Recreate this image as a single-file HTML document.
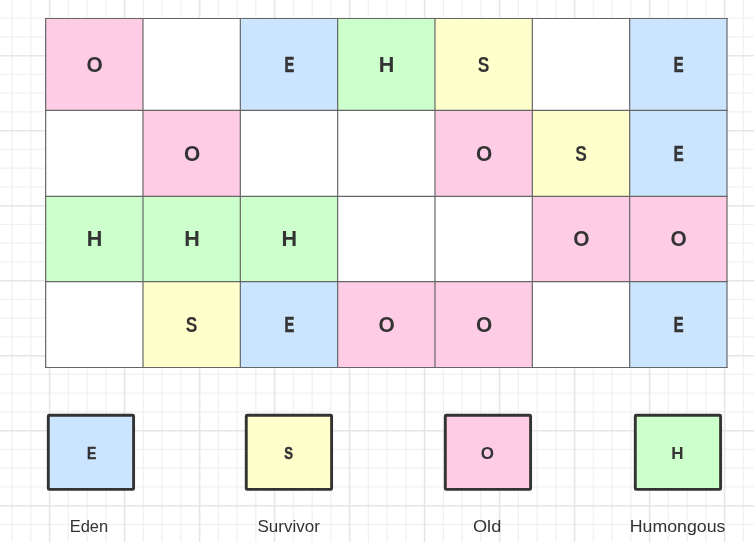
<!DOCTYPE html>
<html><head><meta charset="utf-8"><style>
html,body{margin:0;padding:0;background:#fff;width:754px;height:542px;overflow:hidden}
svg{display:block;will-change:transform}
text{font-family:"Liberation Sans",sans-serif;text-anchor:middle}
.c{font-size:22px;font-weight:bold;fill:#333}
.l{font-size:17px;font-weight:bold;fill:#333}
.n{font-size:17px;fill:#333}
</style></head><body>
<svg width="754" height="542" viewBox="0 0 754 542">
<g stroke="#f1f1f1" stroke-width="1.3">
<line x1="12.10" y1="0" x2="12.10" y2="542"/>
<line x1="30.85" y1="0" x2="30.85" y2="542"/>
<line x1="68.35" y1="0" x2="68.35" y2="542"/>
<line x1="87.10" y1="0" x2="87.10" y2="542"/>
<line x1="105.85" y1="0" x2="105.85" y2="542"/>
<line x1="143.35" y1="0" x2="143.35" y2="542"/>
<line x1="162.10" y1="0" x2="162.10" y2="542"/>
<line x1="180.85" y1="0" x2="180.85" y2="542"/>
<line x1="218.35" y1="0" x2="218.35" y2="542"/>
<line x1="237.10" y1="0" x2="237.10" y2="542"/>
<line x1="255.85" y1="0" x2="255.85" y2="542"/>
<line x1="293.35" y1="0" x2="293.35" y2="542"/>
<line x1="312.10" y1="0" x2="312.10" y2="542"/>
<line x1="330.85" y1="0" x2="330.85" y2="542"/>
<line x1="368.35" y1="0" x2="368.35" y2="542"/>
<line x1="387.10" y1="0" x2="387.10" y2="542"/>
<line x1="405.85" y1="0" x2="405.85" y2="542"/>
<line x1="443.35" y1="0" x2="443.35" y2="542"/>
<line x1="462.10" y1="0" x2="462.10" y2="542"/>
<line x1="480.85" y1="0" x2="480.85" y2="542"/>
<line x1="518.35" y1="0" x2="518.35" y2="542"/>
<line x1="537.10" y1="0" x2="537.10" y2="542"/>
<line x1="555.85" y1="0" x2="555.85" y2="542"/>
<line x1="593.35" y1="0" x2="593.35" y2="542"/>
<line x1="612.10" y1="0" x2="612.10" y2="542"/>
<line x1="630.85" y1="0" x2="630.85" y2="542"/>
<line x1="668.35" y1="0" x2="668.35" y2="542"/>
<line x1="687.10" y1="0" x2="687.10" y2="542"/>
<line x1="705.85" y1="0" x2="705.85" y2="542"/>
<line x1="743.35" y1="0" x2="743.35" y2="542"/>
<line x1="0" y1="-0.55" x2="754" y2="-0.55"/>
<line x1="0" y1="18.20" x2="754" y2="18.20"/>
<line x1="0" y1="36.95" x2="754" y2="36.95"/>
<line x1="0" y1="74.45" x2="754" y2="74.45"/>
<line x1="0" y1="93.20" x2="754" y2="93.20"/>
<line x1="0" y1="111.95" x2="754" y2="111.95"/>
<line x1="0" y1="149.45" x2="754" y2="149.45"/>
<line x1="0" y1="168.20" x2="754" y2="168.20"/>
<line x1="0" y1="186.95" x2="754" y2="186.95"/>
<line x1="0" y1="224.45" x2="754" y2="224.45"/>
<line x1="0" y1="243.20" x2="754" y2="243.20"/>
<line x1="0" y1="261.95" x2="754" y2="261.95"/>
<line x1="0" y1="299.45" x2="754" y2="299.45"/>
<line x1="0" y1="318.20" x2="754" y2="318.20"/>
<line x1="0" y1="336.95" x2="754" y2="336.95"/>
<line x1="0" y1="374.45" x2="754" y2="374.45"/>
<line x1="0" y1="393.20" x2="754" y2="393.20"/>
<line x1="0" y1="411.95" x2="754" y2="411.95"/>
<line x1="0" y1="449.45" x2="754" y2="449.45"/>
<line x1="0" y1="468.20" x2="754" y2="468.20"/>
<line x1="0" y1="486.95" x2="754" y2="486.95"/>
<line x1="0" y1="524.45" x2="754" y2="524.45"/>
<line x1="0" y1="543.20" x2="754" y2="543.20"/>
</g>
<g stroke="#e6e6e6" stroke-width="1.6">
<line x1="49.60" y1="0" x2="49.60" y2="542"/>
<line x1="124.60" y1="0" x2="124.60" y2="542"/>
<line x1="199.60" y1="0" x2="199.60" y2="542"/>
<line x1="274.60" y1="0" x2="274.60" y2="542"/>
<line x1="349.60" y1="0" x2="349.60" y2="542"/>
<line x1="424.60" y1="0" x2="424.60" y2="542"/>
<line x1="499.60" y1="0" x2="499.60" y2="542"/>
<line x1="574.60" y1="0" x2="574.60" y2="542"/>
<line x1="649.60" y1="0" x2="649.60" y2="542"/>
<line x1="724.60" y1="0" x2="724.60" y2="542"/>
<line x1="0" y1="55.70" x2="754" y2="55.70"/>
<line x1="0" y1="130.70" x2="754" y2="130.70"/>
<line x1="0" y1="205.70" x2="754" y2="205.70"/>
<line x1="0" y1="280.70" x2="754" y2="280.70"/>
<line x1="0" y1="355.70" x2="754" y2="355.70"/>
<line x1="0" y1="430.70" x2="754" y2="430.70"/>
<line x1="0" y1="505.70" x2="754" y2="505.70"/>
</g>
<rect x="45.65" y="18.50" width="97.34" height="91.90" fill="#ffcce6"/>
<rect x="142.99" y="18.50" width="97.34" height="91.90" fill="#ffffff"/>
<rect x="240.32" y="18.50" width="97.34" height="91.90" fill="#cce5ff"/>
<rect x="337.66" y="18.50" width="97.34" height="91.90" fill="#ccffcc"/>
<rect x="434.99" y="18.50" width="97.34" height="91.90" fill="#ffffcc"/>
<rect x="532.33" y="18.50" width="97.34" height="91.90" fill="#ffffff"/>
<rect x="629.66" y="18.50" width="97.34" height="91.90" fill="#cce5ff"/>
<rect x="45.65" y="110.40" width="97.34" height="85.90" fill="#ffffff"/>
<rect x="142.99" y="110.40" width="97.34" height="85.90" fill="#ffcce6"/>
<rect x="240.32" y="110.40" width="97.34" height="85.90" fill="#ffffff"/>
<rect x="337.66" y="110.40" width="97.34" height="85.90" fill="#ffffff"/>
<rect x="434.99" y="110.40" width="97.34" height="85.90" fill="#ffcce6"/>
<rect x="532.33" y="110.40" width="97.34" height="85.90" fill="#ffffcc"/>
<rect x="629.66" y="110.40" width="97.34" height="85.90" fill="#cce5ff"/>
<rect x="45.65" y="196.30" width="97.34" height="85.30" fill="#ccffcc"/>
<rect x="142.99" y="196.30" width="97.34" height="85.30" fill="#ccffcc"/>
<rect x="240.32" y="196.30" width="97.34" height="85.30" fill="#ccffcc"/>
<rect x="337.66" y="196.30" width="97.34" height="85.30" fill="#ffffff"/>
<rect x="434.99" y="196.30" width="97.34" height="85.30" fill="#ffffff"/>
<rect x="532.33" y="196.30" width="97.34" height="85.30" fill="#ffcce6"/>
<rect x="629.66" y="196.30" width="97.34" height="85.30" fill="#ffcce6"/>
<rect x="45.65" y="281.60" width="97.34" height="85.90" fill="#ffffff"/>
<rect x="142.99" y="281.60" width="97.34" height="85.90" fill="#ffffcc"/>
<rect x="240.32" y="281.60" width="97.34" height="85.90" fill="#cce5ff"/>
<rect x="337.66" y="281.60" width="97.34" height="85.90" fill="#ffcce6"/>
<rect x="434.99" y="281.60" width="97.34" height="85.90" fill="#ffcce6"/>
<rect x="532.33" y="281.60" width="97.34" height="85.90" fill="#ffffff"/>
<rect x="629.66" y="281.60" width="97.34" height="85.90" fill="#cce5ff"/>
<g stroke="#666666" stroke-width="1.2" stroke-linecap="square">
<line x1="45.65" y1="18.50" x2="45.65" y2="367.50"/>
<line x1="142.99" y1="18.50" x2="142.99" y2="367.50"/>
<line x1="240.32" y1="18.50" x2="240.32" y2="367.50"/>
<line x1="337.66" y1="18.50" x2="337.66" y2="367.50"/>
<line x1="434.99" y1="18.50" x2="434.99" y2="367.50"/>
<line x1="532.33" y1="18.50" x2="532.33" y2="367.50"/>
<line x1="629.66" y1="18.50" x2="629.66" y2="367.50"/>
<line x1="727.00" y1="18.50" x2="727.00" y2="367.50"/>
<line x1="45.65" y1="18.50" x2="727.00" y2="18.50"/>
<line x1="45.65" y1="110.40" x2="727.00" y2="110.40"/>
<line x1="45.65" y1="196.30" x2="727.00" y2="196.30"/>
<line x1="45.65" y1="281.60" x2="727.00" y2="281.60"/>
<line x1="45.65" y1="367.50" x2="727.00" y2="367.50"/>
</g>
<text transform="translate(94.72,71.95) scale(0.95,1.03)" class="c" stroke="#333" stroke-width="0">O</text>
<text transform="translate(289.39,71.65) scale(0.67,0.97)" class="c" stroke="#333" stroke-width="0.7">E</text>
<text transform="translate(386.62,71.95) scale(0.98,1.0)" class="c" stroke="#333" stroke-width="0">H</text>
<text transform="translate(483.66,71.95) scale(0.79,1.02)" class="c" stroke="#333" stroke-width="0">S</text>
<text transform="translate(678.73,71.65) scale(0.67,0.97)" class="c" stroke="#333" stroke-width="0.7">E</text>
<text transform="translate(192.05,160.85) scale(0.95,1.03)" class="c" stroke="#333" stroke-width="0">O</text>
<text transform="translate(484.06,160.85) scale(0.95,1.03)" class="c" stroke="#333" stroke-width="0">O</text>
<text transform="translate(581.00,160.85) scale(0.79,1.02)" class="c" stroke="#333" stroke-width="0">S</text>
<text transform="translate(678.73,160.55) scale(0.67,0.97)" class="c" stroke="#333" stroke-width="0.7">E</text>
<text transform="translate(94.62,246.45) scale(0.98,1.0)" class="c" stroke="#333" stroke-width="0">H</text>
<text transform="translate(191.95,246.45) scale(0.98,1.0)" class="c" stroke="#333" stroke-width="0">H</text>
<text transform="translate(289.29,246.45) scale(0.98,1.0)" class="c" stroke="#333" stroke-width="0">H</text>
<text transform="translate(581.40,246.45) scale(0.95,1.03)" class="c" stroke="#333" stroke-width="0">O</text>
<text transform="translate(678.73,246.45) scale(0.95,1.03)" class="c" stroke="#333" stroke-width="0">O</text>
<text transform="translate(191.65,332.05) scale(0.79,1.02)" class="c" stroke="#333" stroke-width="0">S</text>
<text transform="translate(289.39,331.75) scale(0.67,0.97)" class="c" stroke="#333" stroke-width="0.7">E</text>
<text transform="translate(386.72,332.05) scale(0.95,1.03)" class="c" stroke="#333" stroke-width="0">O</text>
<text transform="translate(484.06,332.05) scale(0.95,1.03)" class="c" stroke="#333" stroke-width="0">O</text>
<text transform="translate(678.73,331.75) scale(0.67,0.97)" class="c" stroke="#333" stroke-width="0.7">E</text>
<rect x="48.30" y="415.30" width="85.30" height="74.10" rx="1" fill="#cce5ff" stroke="#333333" stroke-width="2.9" stroke-linejoin="round"/>
<text transform="translate(91.55,458.60) scale(0.82,0.960)" class="l" stroke="#333" stroke-width="0.5">E</text>
<text transform="translate(88.90,531.9) scale(0.97,1)" class="n">Eden</text>
<rect x="246.25" y="415.30" width="85.35" height="74.10" rx="1" fill="#ffffcc" stroke="#333333" stroke-width="2.9" stroke-linejoin="round"/>
<text transform="translate(288.55,458.60) scale(0.77,0.960)" class="l" stroke="#333" stroke-width="0.5">S</text>
<text transform="translate(288.70,531.9) scale(1.0,1)" class="n">Survivor</text>
<rect x="445.30" y="415.30" width="85.30" height="74.10" rx="1" fill="#ffcce6" stroke="#333333" stroke-width="2.9" stroke-linejoin="round"/>
<text transform="translate(487.25,458.85) scale(1.0,1.000)" class="l" stroke="#333" stroke-width="0">O</text>
<text transform="translate(487.10,531.9) scale(1.07,1)" class="n">Old</text>
<rect x="635.30" y="415.30" width="85.30" height="74.10" rx="1" fill="#ccffcc" stroke="#333333" stroke-width="2.9" stroke-linejoin="round"/>
<text transform="translate(677.30,458.85) scale(1.0,1.000)" class="l" stroke="#333" stroke-width="0">H</text>
<text transform="translate(677.60,531.9) scale(1.046,1)" class="n">Humongous</text>
</svg>
</body></html>
